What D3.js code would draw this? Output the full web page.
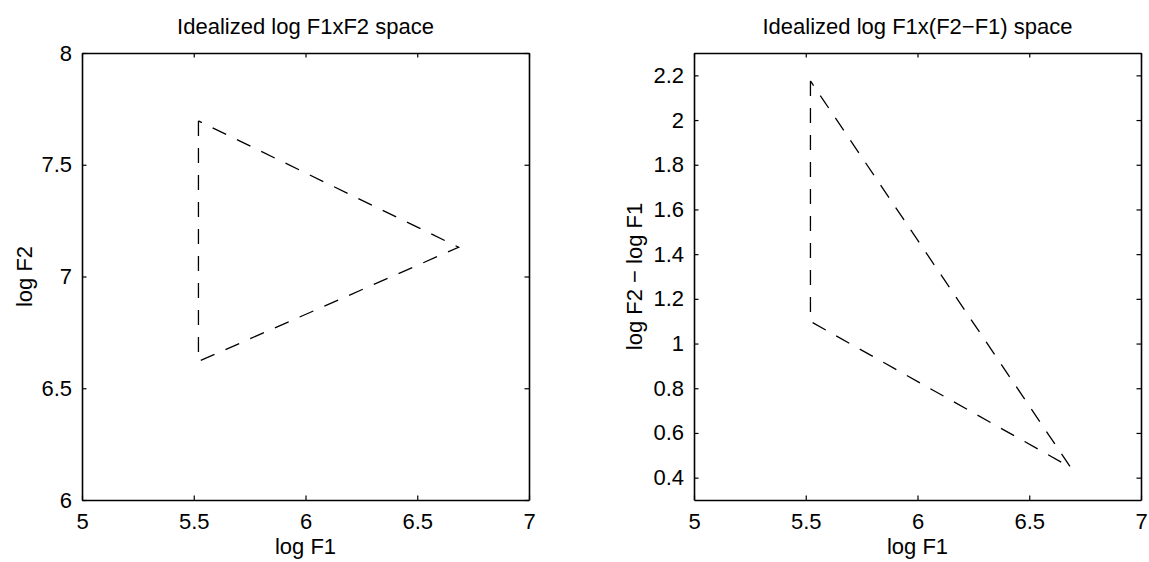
<!DOCTYPE html>
<html><head><meta charset="utf-8">
<script src="https://cdn.jsdelivr.net/npm/d3@7"></script>
<style>
body{margin:0;background:#fff;}
text{font-family:"Liberation Sans",Arial,Helvetica,sans-serif;fill:#000;}
</style></head>
<body>
<svg id="c" width="1149" height="562"></svg>
<script>
// Data
const logF1 = [5.521, 5.521, 6.685];
const logF2 = [7.696, 6.620, 7.131];
const logDiff = [2.175, 1.099, 0.446];   // log F2 - log F1

const xTicks = [5, 5.5, 6, 6.5, 7];
const yTicksLeft = [6, 6.5, 7, 7.5, 8];
const yTicksRight = [0.4, 0.6, 0.8, 1, 1.2, 1.4, 1.6, 1.8, 2, 2.2];

const titles = ["Idealized log F1xF2 space", "Idealized log F1x(F2\u2212F1) space"];
const xLabels = ["log F1", "log F1"];
const yLabels = ["log F2", "log F2 \u2212 log F1"];

const svg = d3.select("#c");
const FS = 22;

const panels = [
  {x0: 82, xs: logF1, ys: logF2, xDom: [5, 7], yDom: [6, 8], yTicks: yTicksLeft, ylx: 24},
  {x0: 694, xs: logF1, ys: logDiff, xDom: [5, 7], yDom: [0.3, 2.3], yTicks: yTicksRight, ylx: 634}
];
const plotTop = 53, plotSize = 447;

panels.forEach((p, i) => {
  const x = d3.scaleLinear().domain(p.xDom).range([p.x0, p.x0 + plotSize]);
  const y = d3.scaleLinear().domain(p.yDom).range([plotTop + plotSize, plotTop]);
  const g = svg.append("g");
  const tl = 4.5;

  const xb = g.append("g").attr("transform", `translate(0,${plotTop + plotSize})`)
    .call(d3.axisBottom(x).tickValues(xTicks).tickSizeInner(-tl).tickSizeOuter(0).tickPadding(13).tickFormat(d3.format("")));
  const xt = g.append("g").attr("transform", `translate(0,${plotTop})`)
    .call(d3.axisTop(x).tickValues(xTicks).tickSizeInner(-tl).tickSizeOuter(0).tickFormat(""));
  const yl = g.append("g").attr("transform", `translate(${p.x0},0)`)
    .call(d3.axisLeft(y).tickValues(p.yTicks).tickSizeInner(-tl).tickSizeOuter(0).tickPadding(10).tickFormat(d3.format("")));
  const yr = g.append("g").attr("transform", `translate(${p.x0 + plotSize},0)`)
    .call(d3.axisRight(y).tickValues(p.yTicks).tickSizeInner(-tl).tickSizeOuter(0).tickFormat(""));

  [xb, xt, yl, yr].forEach(a => {
    a.select(".domain").attr("stroke", "#000").attr("stroke-width", 1.6);
    a.selectAll(".tick line").attr("stroke", "#000").attr("stroke-width", 1.2);
    a.selectAll(".tick text").attr("font-size", FS).attr("font-family", "Liberation Sans, Arial, sans-serif").attr("fill", "#000");
  });

  const pts = p.xs.map((v, k) => [x(v), y(p.ys[k])]);
  pts.push(pts[0]);
  g.append("path")
    .attr("d", d3.line()(pts))
    .attr("fill", "none")
    .attr("stroke", "#000")
    .attr("stroke-width", 1.3)
    .attr("stroke-dasharray", "15,12");

  g.append("text").attr("x", p.x0 + plotSize / 2).attr("y", 34)
    .attr("text-anchor", "middle").attr("font-size", FS).text(titles[i]);
  g.append("text").attr("x", p.x0 + plotSize / 2).attr("y", 554)
    .attr("text-anchor", "middle").attr("font-size", FS).text(xLabels[i]);
  g.append("text").attr("transform", `translate(${p.ylx},${plotTop + plotSize / 2}) rotate(-90)`)
    .attr("text-anchor", "middle").attr("dy", "0.35em").attr("font-size", FS).text(yLabels[i]);
});
</script>
</body></html>
